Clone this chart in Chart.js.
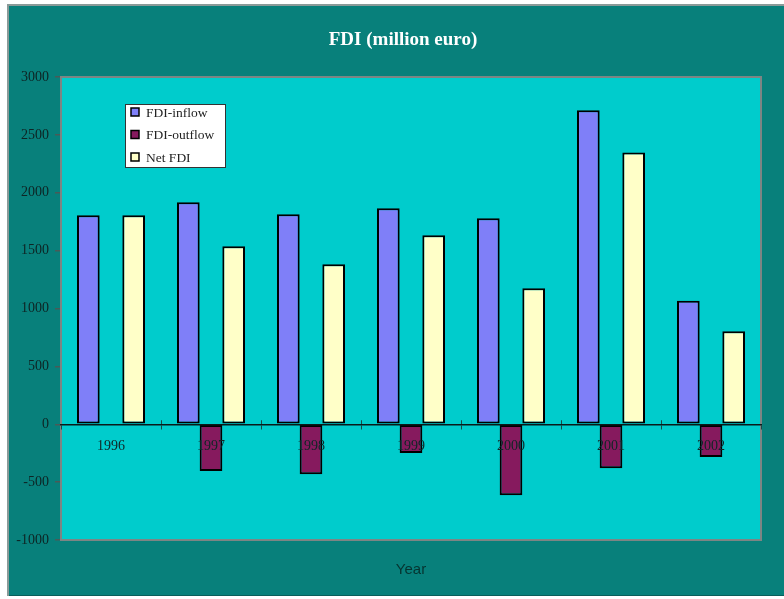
<!DOCTYPE html>
<html>
<head>
<meta charset="utf-8">
<title>FDI (million euro)</title>
<script src="https://cdn.jsdelivr.net/npm/chart.js@4.4.1/dist/chart.umd.min.js"></script>
<style>
  html, body { margin: 0; padding: 0; background: #ffffff; }
  canvas { display: block; }
</style>
</head>
<body>
<canvas id="fdi" width="784" height="599"></canvas>
<script>
// Foreign direct investment by year, million euro
const years = ['1996', '1997', '1998', '1999', '2000', '2001', '2002'];
const fdiInflow = [1805, 1918, 1814, 1866, 1780, 2713, 1068];
const fdiOutflow = [0, -403, -432, -248, -613, -380, -282];
const netFdi = [1805, 1538, 1382, 1633, 1175, 2347, 803];
const yTicks = [-1000, -500, 0, 500, 1000, 1500, 2000, 2500, 3000];

const serif = '"Liberation Serif", "DejaVu Serif", serif';
const frameColor = '#08807b';
const plotColor = '#00cccc';

// Page frame, plot area fill, titles and the boxed legend
const frameAndLegend = {
  id: 'frameAndLegend',
  beforeDraw(chart) {
    const { ctx, chartArea: a } = chart;
    ctx.save();
    ctx.fillStyle = '#ffffff';
    ctx.fillRect(0, 0, chart.width, chart.height);
    // outer teal frame with a soft grey edge
    ctx.fillStyle = '#8a9a98';
    ctx.fillRect(7, 4, chart.width - 7, chart.height - 7);
    ctx.fillStyle = frameColor;
    ctx.fillRect(9, 6, chart.width - 9, chart.height - 10);
    ctx.fillStyle = '#0a5e5a';
    ctx.fillRect(9, chart.height - 4, chart.width - 9, 1);
    // plot area
    ctx.fillStyle = plotColor;
    ctx.fillRect(a.left, a.top, a.right - a.left, a.bottom - a.top);
    // title
    ctx.fillStyle = '#ffffff';
    ctx.font = 'bold 19px ' + serif;
    ctx.textAlign = 'center';
    ctx.textBaseline = 'middle';
    ctx.fillText('FDI (million euro)', 403, 40);
    // axis title
    ctx.fillStyle = '#063330';
    ctx.font = '15px "Liberation Sans", Arial, sans-serif';
    ctx.fillText('Year', (a.left + a.right) / 2, 570);
    ctx.restore();
  },
  beforeDatasetsDraw(chart) {
    const { ctx, chartArea: a } = chart;
    ctx.save();
    ctx.strokeStyle = '#7d8584';
    ctx.lineWidth = 2;
    ctx.strokeRect(a.left, a.top, a.right - a.left, a.bottom - a.top);
    ctx.restore();
  },
  afterDatasetsDraw(chart) {
    const { ctx, chartArea: a } = chart;
    const xs = chart.scales.x, ys = chart.scales.y;
    const y0line = ys.getPixelForValue(0);
    // category separators cross the zero line
    ctx.save();
    ctx.strokeStyle = '#1d4a48';
    ctx.lineWidth = 1;
    for (let i = 1; i < years.length; i++) {
      const bx = Math.round((xs.getPixelForValue(i - 1) + xs.getPixelForValue(i)) / 2) + 0.5;
      ctx.beginPath();
      ctx.moveTo(bx, y0line - 4);
      ctx.lineTo(bx, y0line);
      ctx.stroke();
    }
    ctx.restore();

    const x0 = a.left + 64, y0 = a.top + 27, w = 100, h = 63;
    ctx.save();
    ctx.fillStyle = '#ffffff';
    ctx.fillRect(x0, y0, w, h);
    ctx.strokeStyle = '#333333';
    ctx.lineWidth = 1;
    ctx.strokeRect(x0 + 0.5, y0 + 0.5, w, h);
    ctx.font = '13.5px ' + serif;
    ctx.textAlign = 'left';
    ctx.textBaseline = 'middle';
    chart.data.datasets.forEach((ds, i) => {
      const cy = y0 + 8 + i * 22.5;
      ctx.fillStyle = ds.backgroundColor;
      ctx.fillRect(x0 + 6, cy - 4, 8, 8);
      ctx.strokeStyle = '#000000';
      ctx.lineWidth = 1.5;
      ctx.strokeRect(x0 + 6, cy - 4, 8, 8);
      ctx.fillStyle = '#222222';
      ctx.fillText(ds.label, x0 + 21, cy + 1);
    });
    ctx.restore();
  }
};

new Chart(document.getElementById('fdi'), {
  type: 'bar',
  data: {
    labels: years,
    datasets: [
      { label: 'FDI-inflow', data: fdiInflow, backgroundColor: '#7f7ff8' },
      { label: 'FDI-outflow', data: fdiOutflow, backgroundColor: '#861a5e' },
      { label: 'Net FDI', data: netFdi, backgroundColor: '#ffffc8' }
    ]
  },
  options: {
    responsive: false,
    animation: false,
    devicePixelRatio: 1,
    layout: { padding: { left: 0, top: 77, right: 23, bottom: 59 } },
    datasets: {
      bar: {
        borderColor: '#000000',
        borderWidth: 2,
        borderSkipped: false,
        categoryPercentage: 0.68,
        barPercentage: 1.0
      }
    },
    plugins: {
      legend: { display: false },
      title: { display: false },
      tooltip: { enabled: false }
    },
    scales: {
      x: {
        position: { y: 0 },
        grid: {
          offset: true,
          drawOnChartArea: false,
          drawTicks: true,
          tickLength: 4,
          color: '#1d4a48',
          lineWidth: 1,
          z: 1
        },
        border: { display: true, color: '#0a1a1a', width: 1.5, z: 1 },
        ticks: {
          z: 1,
          padding: 10,
          color: '#102626',
          font: { family: serif, size: 14 }
        }
      },
      y: {
        min: yTicks[0],
        max: yTicks[yTicks.length - 1],
        afterBuildTicks(scale) {
          scale.ticks = yTicks.map(v => ({ value: v }));
        },
        afterFit(scale) { scale.width = 61; },
        grid: {
          drawOnChartArea: false,
          drawTicks: true,
          tickLength: 6,
          color: '#4a5a58',
          lineWidth: 1.5
        },
        border: { display: true, color: '#7d8584', width: 2 },
        ticks: {
          padding: 6,
          color: '#0e2424',
          font: { family: serif, size: 14 },
          callback: (v) => String(v)
        }
      }
    }
  },
  plugins: [frameAndLegend]
});
</script>
</body>
</html>
